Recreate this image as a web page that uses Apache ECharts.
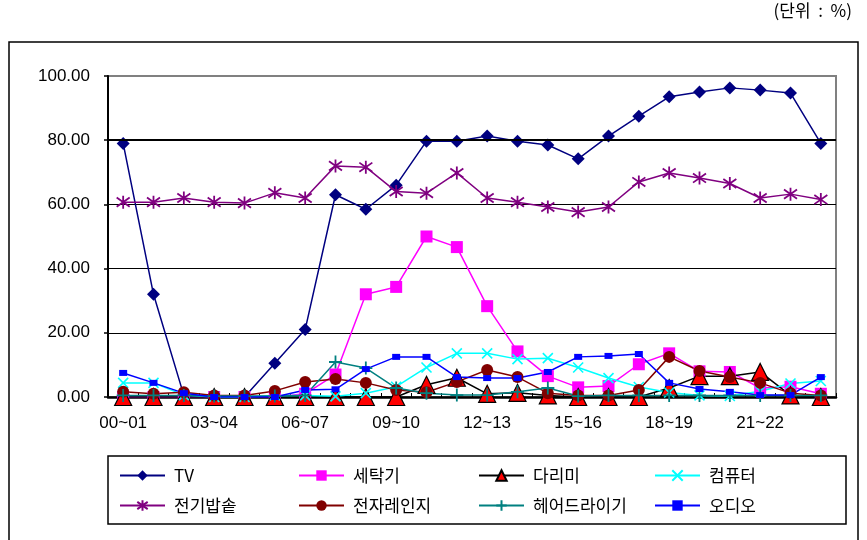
<!DOCTYPE html>
<html>
<head>
<meta charset="utf-8">
<script src="https://cdn.jsdelivr.net/npm/echarts@6/dist/echarts.min.js"></script>
<style>
html,body{margin:0;padding:0;background:#fff;}
#c{width:867px;height:540px;}
</style>
</head>
<body>
<div id="c"></div>
<script>
var categories = ['00~01','01~02','02~03','03~04','04~05','05~06','06~07','07~08','08~09','09~10','10~11','11~12',
  '12~13','13~14','14~15','15~16','16~17','17~18','18~19','19~20','20~21','21~22','22~23','23~24'];
var yTicks = [0, 20, 40, 60, 80, 100];

var tv        = [79, 32, 0.5, 0, 0, 10.5, 21, 63, 58.5, 66, 79.7, 79.7, 81.3, 79.7, 78.5, 74.2, 81.3, 87.5, 93.5, 95, 96.3, 95.6, 94.7, 79];
var washer    = [0, 0, 0, 0, 0, 0, 1, 7, 32, 34.3, 50, 46.7, 28.3, 14.2, 6.5, 3.0, 3.4, 10.2, 13.6, 8, 7.8, 2.8, 3.2, 1];
var iron      = [0, 0, 0, 0, 0, 0, 0, 0, 0, 0, 3.8, 6, 1, 1.3, 0.5, 0, 0, 0, 2.8, 6.5, 6.5, 7.8, 0.5, 0];
var computer  = [4.4, 4.4, 0.6, 0, 0, 0.5, 0.5, 0.2, 1.2, 3.2, 9.2, 13.6, 13.6, 11.8, 12.1, 9.2, 5.9, 3.1, 1.4, 0.5, 0.3, 1.8, 4.2, 5];
var riceCooker= [60.7, 60.7, 62, 60.7, 60.4, 63.6, 62, 72, 71.6, 64, 63.5, 69.8, 62, 60.7, 59.2, 57.6, 59.2, 67, 69.8, 68.2, 66.5, 62, 63.2, 61.5];
var microwave = [1.6, 1.0, 1.5, 0.5, 0.5, 1.9, 4.7, 5.6, 4.4, 2.2, 1.5, 4.7, 8.4, 6.2, 1.2, 0.5, 0.5, 2.2, 12.5, 8.1, 6.2, 4.4, 1.2, 0.5];
var hairDryer = [0.5, 0.5, 0.5, 0.3, 0.3, 0.3, 0.5, 10.9, 9, 2.8, 1.2, 0.6, 0.6, 1.6, 2.8, 0.3, 0.5, 0.5, 0.5, 0.5, 0.5, 0.5, 0.5, 0.5];
var audio     = [7.5, 4.4, 1.2, 0, 0, 0, 2.2, 2.4, 8.7, 12.5, 12.5, 6.2, 5.9, 5.9, 7.8, 12.5, 12.8, 13.4, 4.4, 2.5, 1.6, 0.6, 0.6, 6.2];

var names = ['TV','세탁기','다리미','컴퓨터','전기밥솥','전자레인지','헤어드라이기','오디오'];

var FONT = '"Liberation Sans", Arial, "Noto Sans CJK KR", sans-serif';
var KFONT = '"Noto Sans CJK KR", "Liberation Sans", sans-serif';

var X_PATH = 'path://M0,0L10,10M10,0L0,10';
var STAR_PATH = 'path://M5,0L5,10M0,1.5L10,8.5M10,1.5L0,8.5';
var PLUS_PATH = 'path://M5,0L5,10M0,5L10,5';

function mk(name, data, lineColor, symbol, size, fill, border, bw) {
  return {
    name: name, type: 'line', data: data,
    symbol: symbol, symbolSize: size, showSymbol: true,
    lineStyle: {color: lineColor, width: 1.5},
    itemStyle: {color: fill, borderColor: border || fill, borderWidth: bw || 0},
    emphasis: {disabled: true},
    animation: false
  };
}

var series = [
  mk(names[0], tv, '#000080', 'diamond', 13, '#000080'),
  mk(names[1], washer, '#FF00FF', 'rect', 12, '#FF00FF'),
  mk(names[2], iron, '#000000', 'triangle', [17, 17], '#FF0000', '#000000', 1.2),
  mk(names[3], computer, '#00FFFF', X_PATH, 10, '#00FFFF', '#00FFFF', 1.6),
  mk(names[4], riceCooker, '#800080', STAR_PATH, 13, '#800080', '#800080', 1.8),
  mk(names[5], microwave, '#800000', 'circle', 12, '#800000'),
  mk(names[6], hairDryer, '#008080', PLUS_PATH, 13, '#008080', '#008080', 1.8),
  mk(names[7], audio, '#0000FF', 'rect', [8, 6], '#0000FF')
];
series[0].markLine = {
  silent: true, symbol: 'none', label: {show: false},
  lineStyle: {color: '#000', width: 2.2, type: 'solid'},
  data: [{yAxis: 80}], animation: false
};
series[0].z = 2;

function legendCol(left, items) {
  return {
    orient: 'vertical', left: left, top: 462, itemGap: 13,
    itemWidth: 45, itemHeight: 13,
    selectedMode: false,
    textStyle: {fontFamily: KFONT, fontSize: 17, color: '#000', padding: [0, 0, 0, 4]},
    data: items
  };
}

var chart = echarts.init(document.getElementById('c'), null, {renderer: 'canvas'});
chart.setOption({
  backgroundColor: '#fff',
  animation: false,
  grid: {left: 108, top: 76, right: 31, bottom: 143, show: true, borderColor: '#808080', borderWidth: 2, backgroundColor: 'transparent'},
  xAxis: {
    type: 'category', data: categories, boundaryGap: true,
    axisLine: {lineStyle: {color: '#000', width: 2.5}},
    axisTick: {show: true, inside: true, length: 4, lineStyle: {color: '#000', width: 1}, alignWithLabel: false, interval: 0},
    axisLabel: {interval: 2, margin: 18, fontFamily: FONT, fontSize: 17, color: '#000'},
    splitLine: {show: false}
  },
  yAxis: {
    type: 'value', min: yTicks[0], max: yTicks[yTicks.length - 1], interval: 20,
    axisLine: {show: true, lineStyle: {color: '#000', width: 2}},
    axisTick: {show: true, inside: false, length: 4, lineStyle: {color: '#000', width: 1.5}},
    axisLabel: {margin: 18, fontFamily: FONT, fontSize: 17, color: '#000',
      formatter: function (v) { return v.toFixed(2); }},
    splitLine: {show: true, lineStyle: {color: ['#000', '#000', '#000', '#000', '#000', '#808080'], width: 1}}
  },
  legend: [
    legendCol(114, [names[0], names[4]]),
    legendCol(293, [names[1], names[5]]),
    legendCol(473, [names[2], names[6]]),
    legendCol(649, [names[3], names[7]])
  ],
  graphic: [
    {type: 'polyline', silent: true, shape: {points: [[9, 545], [9, 42], [858, 42], [858, 545]]},
      style: {stroke: '#000', lineWidth: 1.5, fill: 'none'}},
    {type: 'rect', silent: true, shape: {x: 108, y: 456, width: 738, height: 68},
      style: {stroke: '#000', lineWidth: 1.5, fill: 'none'}},
    {type: 'text', silent: true, right: 15, top: 2,
      style: {text: '(단위  :  %)', font: '17px "Noto Sans CJK KR", serif', fill: '#000'}}
  ],
  series: series
});
</script>
</body>
</html>
